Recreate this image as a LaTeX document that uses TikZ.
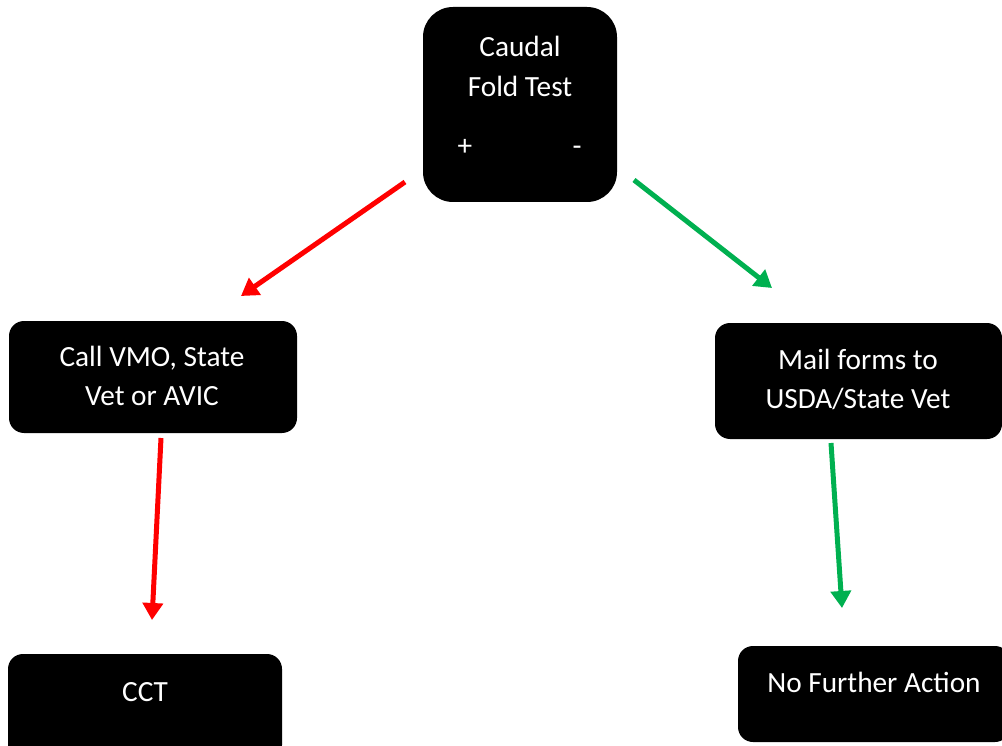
\documentclass[tikz,border=0pt]{standalone}
\usepackage{fontspec}
\setmainfont{Carlito}
\usetikzlibrary{arrows.meta}
\definecolor{myred}{HTML}{FF0000}
\definecolor{mygreen}{HTML}{00B050}
\tikzset{
  box/.style={fill=black, draw=none, inner sep=0pt},
  txt/.style={text=white, font=\fontsize{29.3pt}{40pt}\selectfont, anchor=base, inner sep=0pt},
  arr/.style={line width=5pt, -{Triangle[width=20pt,length=17pt]}},
}
\begin{document}
\begin{tikzpicture}[x=1pt,y=-1pt]
\useasboundingbox (0,0) rectangle (1002,746);
\clip (0,0) rectangle (1002,746);
% boxes
\node[box, rounded corners=30pt, minimum width=194pt, minimum height=195pt] (cft) at (520,104.5) {};
\node[box, rounded corners=15pt, minimum width=288pt, minimum height=112pt] (vmo) at (153,377) {};
\node[box, rounded corners=15pt, minimum width=287pt, minimum height=116pt] (mail) at (858.5,381) {};
\node[box, rounded corners=15pt, minimum width=274pt, minimum height=106pt] (cct) at (145,707) {};
\node[box, rounded corners=15pt, minimum width=272pt, minimum height=96pt] (nfa) at (874,694) {};
% texts
\node[txt] (t1) at (520,57) {Caudal};
\node[txt] (t2) at (520,97) {Fold Test};
\node[txt] (tp) at (465,156) {+};
\node[txt] (tm) at (577,156) {-};
\node[txt] (t3) at (152,366) {Call VMO, State};
\node[txt] (t4) at (152,405) {Vet or AVIC};
\node[txt] (t5) at (858,369) {Mail forms to};
\node[txt] (t6) at (858,408) {USDA/State Vet};
\node[txt] (t7) at (145,701) {CCT};
\node[txt] (t8) at (874,692) {No Further Action};
% arrow ends
\coordinate (r1s) at (405,182);
\coordinate (r1e) at (241,296);
\coordinate (g1s) at (634,180);
\coordinate (g1e) at (772,288);
\coordinate (r2s) at (161,438);
\coordinate (r2e) at (152,620);
\coordinate (g2s) at (831,443);
\coordinate (g2e) at (842,608);
\draw[arr, myred] (r1s) -- (r1e);
\draw[arr, mygreen] (g1s) -- (g1e);
\draw[arr, myred] (r2s) -- (r2e);
\draw[arr, mygreen] (g2s) -- (g2e);
\end{tikzpicture}
\end{document}
